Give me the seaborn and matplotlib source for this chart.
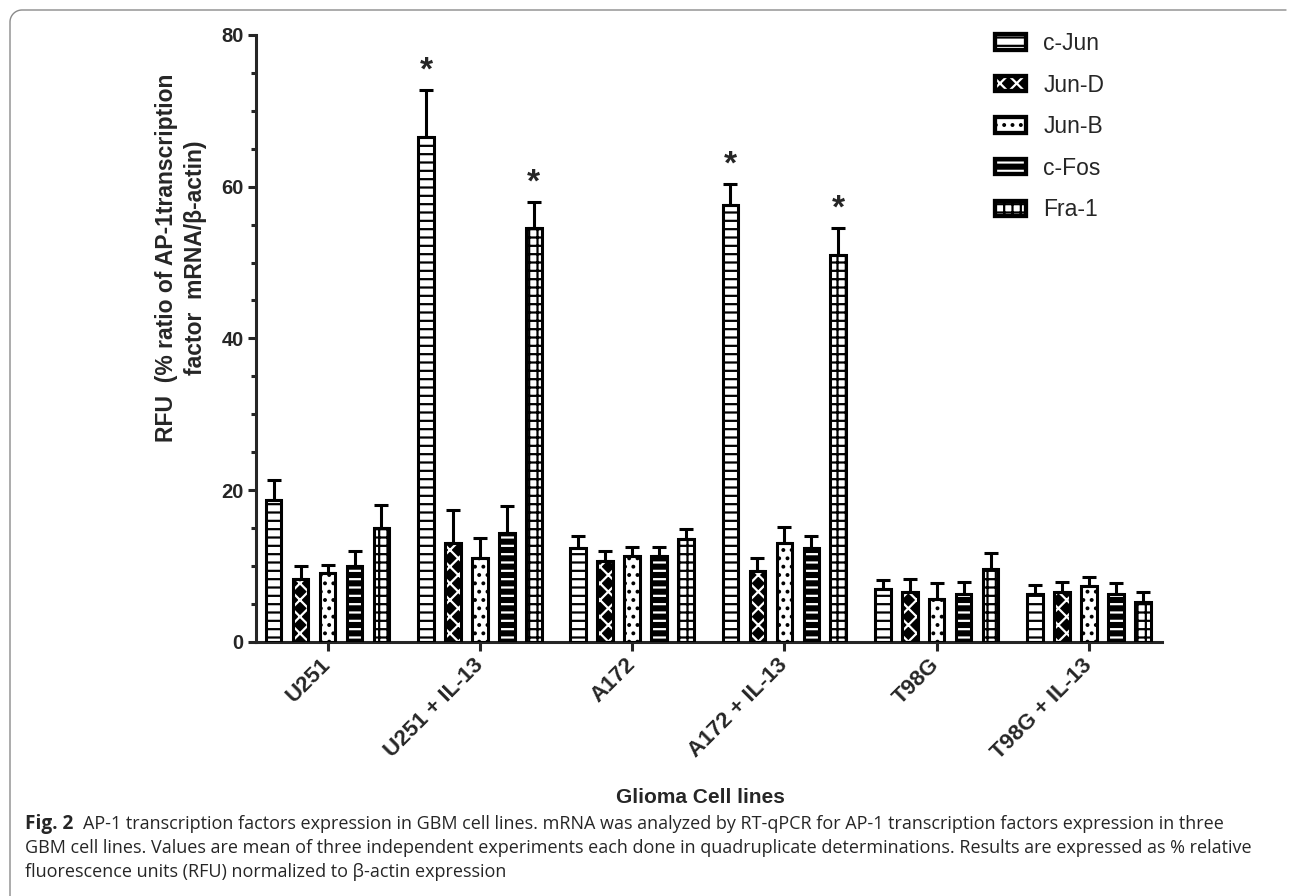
import numpy as np
import pandas as pd
import matplotlib
matplotlib.use("Agg")
import matplotlib.pyplot as plt
import seaborn as sns
from matplotlib.patches import Rectangle
from matplotlib.lines import Line2D
from matplotlib.ticker import MultipleLocator
from matplotlib.legend_handler import HandlerTuple

# ---------------- data ----------------
cell_lines = ["U251", "U251 + IL-13", "A172", "A172 + IL-13", "T98G", "T98G + IL-13"]
factors = ["c-Jun", "Jun-D", "Jun-B", "c-Fos", "Fra-1"]

cjun = [18.7, 66.6, 12.3, 57.6, 7.0, 6.3]
cjun_err = [2.6, 6.2, 1.6, 2.8, 1.1, 1.2]
jund = [8.3, 13.0, 10.6, 9.3, 6.6, 6.6]
jund_err = [1.7, 4.4, 1.3, 1.7, 1.7, 1.3]
junb = [9.0, 11.0, 11.3, 13.0, 5.6, 7.3]
junb_err = [1.1, 2.7, 1.2, 2.1, 2.1, 1.2]
cfos = [10.0, 14.3, 11.3, 12.3, 6.3, 6.3]
cfos_err = [2.0, 3.6, 1.2, 1.7, 1.6, 1.5]
fra1 = [15.0, 54.6, 13.6, 51.0, 9.6, 5.3]
fra1_err = [3.0, 3.4, 1.2, 3.6, 2.1, 1.2]

significant = [("U251 + IL-13", "c-Jun"), ("U251 + IL-13", "Fra-1"),
               ("A172 + IL-13", "c-Jun"), ("A172 + IL-13", "Fra-1")]

y_label = "RFU  (% ratio of AP-1transcription\nfactor  mRNA/\u03b2-actin)"
x_label = "Glioma Cell lines"
caption_bold = "Fig. 2"
caption_l1 = ("AP-1 transcription factors expression in GBM cell lines. mRNA was analyzed by "
              "RT-qPCR for AP-1 transcription factors expression in three")
caption_l2 = ("GBM cell lines. Values are mean of three independent experiments each done in "
              "quadruplicate determinations. Results are expressed as % relative")
caption_l3 = "fluorescence units (RFU) normalized to \u03b2-actin expression"

means = {"c-Jun": cjun, "Jun-D": jund, "Jun-B": junb, "c-Fos": cfos, "Fra-1": fra1}
errs = {"c-Jun": cjun_err, "Jun-D": jund_err, "Jun-B": junb_err, "c-Fos": cfos_err, "Fra-1": fra1_err}

rows = []
for f in factors:
    for c, v, e in zip(cell_lines, means[f], errs[f]):
        rows.append({"cell": c, "factor": f, "value": v, "err": e})
df = pd.DataFrame(rows)

# styles: (face, hatch, hatch colour)
styles = {
    "c-Jun": ("white", "--", "black"),
    "Jun-D": ("black", "xx", "white"),
    "Jun-B": ("white", "..", "black"),
    "c-Fos": ("black", "--", "white"),
    "Fra-1": ("white", "++", "black"),
}

# ---------------- figure ----------------
sns.set_style("ticks")
plt.rcParams["font.family"] = ["Liberation Sans", "DejaVu Sans"]
plt.rcParams["hatch.linewidth"] = 1.6

W, H = 1290, 896
fig = plt.figure(figsize=(W / 100, H / 100), dpi=100)
ax_l, ax_r, ax_t, ax_b = 256, 1162, 35, 641.7
ax = fig.add_axes([ax_l / W, 1 - ax_b / H, (ax_r - ax_l) / W, (ax_b - ax_t) / H])

sns.barplot(data=df, x="cell", y="value", hue="factor", order=cell_lines,
            hue_order=factors, width=0.885, gap=0.42, errorbar=None,
            palette=["white"] * 5, saturation=1, legend=False, ax=ax)

LW = 2.2
for f, cont in zip(factors, ax.containers):
    face, hatch, hcol = styles[f]
    for c, p in zip(cell_lines, cont.patches):
        p.set_facecolor(face)
        p.set_edgecolor(hcol)
        p.set_hatch(hatch)
        p.set_linewidth(0)
        p.set_zorder(2)
        ax.add_patch(Rectangle((p.get_x(), p.get_y()), p.get_width(), p.get_height(),
                               fill=False, edgecolor="black", linewidth=LW, zorder=3,
                               joinstyle="miter"))
        sub = df[(df.cell == c) & (df.factor == f)].iloc[0]
        xc = p.get_x() + p.get_width() / 2
        top = p.get_height()
        ax.errorbar([xc], [top], yerr=[[0], [sub.err]], fmt="none", ecolor="black",
                    elinewidth=LW, capsize=5, capthick=LW, zorder=2.5)
        if (c, f) in significant:
            ax.text(xc, top + sub.err + 0.4, "*", ha="center", va="bottom",
                    fontsize=24, fontweight="bold", zorder=4)

ax.set_ylim(0, 80)
ax.set_xlim(-0.47, 5.48)
ax.set_yticks([0, 20, 40, 60, 80])
ax.yaxis.set_minor_locator(MultipleLocator(5))
sns.despine(ax=ax)
for s in ["left", "bottom"]:
    ax.spines[s].set_linewidth(LW)
ax.tick_params(axis="y", which="major", length=6, width=LW, labelsize=14.5, pad=3)
ax.tick_params(axis="y", which="minor", length=3.5, width=LW)
ax.tick_params(axis="x", which="major", length=6.5, width=LW, labelsize=16, pad=8)
for lbl in ax.get_yticklabels():
    lbl.set_fontweight("bold")
ax.set_xticks(range(len(cell_lines)))
ax.set_xticklabels(cell_lines, rotation=45, ha="right", va="center",
                   rotation_mode="anchor", fontweight="bold")
ax.set_xlabel("")
ax.set_ylabel("")

fig.text(181 / W, 1 - 258 / H, y_label, rotation=90, ha="center", va="center",
         multialignment="center", fontsize=16.5, fontweight="bold", linespacing=1.3)
fig.text(700 / W, 1 - 797 / H, x_label, ha="center", va="center", fontsize=15,
         fontweight="bold")

# legend
handles = []
for f in factors:
    face, hatch, hcol = styles[f]
    fill = Rectangle((0, 0), 1, 1, facecolor=face, edgecolor=hcol, hatch=hatch, linewidth=0)
    outline = Rectangle((0, 0), 1, 1, fill=False, edgecolor="black", linewidth=LW * 1.4)
    handles.append((fill, outline))
ax.legend(handles, factors, handler_map={tuple: HandlerTuple(ndivide=1, pad=0)},
          loc="upper left", bbox_to_anchor=(995 / W, 1 - 32 / H),
          bbox_transform=fig.transFigure, frameon=False, fontsize=16.5,
          handlelength=1.35, handleheight=0.65, handletextpad=0.75,
          labelspacing=0.81, borderpad=0, borderaxespad=0)

# frame (left + top, rounded corner)
r = 12
theta = np.linspace(np.pi, np.pi / 2, 20)
fx = np.concatenate([[10, 10], 10 + r + r * np.cos(theta), [1286]])
fy = np.concatenate([[H + 5, 10 + r], 10 + r - r * np.sin(theta), [10]])
fig.add_artist(Line2D(fx / W, 1 - fy / H, transform=fig.transFigure, color="#8a8a8a",
                      linewidth=1.0))

# caption
cap_font = ["Open Sans", "Noto Sans", "DejaVu Sans"]
renderer = fig.canvas.get_renderer()
t2 = fig.text(25 / W, 1 - 853 / H, caption_l2, fontsize=12, family=cap_font,
              ha="left", va="baseline")
w2 = t2.get_window_extent(renderer).width
fs = 12 * (1252 - 25) / w2
t2.set_fontsize(fs)
tb = fig.text(25 / W, 1 - 829 / H, caption_bold, fontsize=fs * 1.05, family=cap_font,
              fontweight="bold", ha="left", va="baseline")
wb = tb.get_window_extent(renderer).width
fig.text((25 + wb + 10) / W, 1 - 829 / H, caption_l1, fontsize=fs, family=cap_font,
         ha="left", va="baseline")
fig.text(25 / W, 1 - 877 / H, caption_l3, fontsize=fs, family=cap_font,
         ha="left", va="baseline")

fig.savefig("out.png", dpi=100, facecolor="white")
